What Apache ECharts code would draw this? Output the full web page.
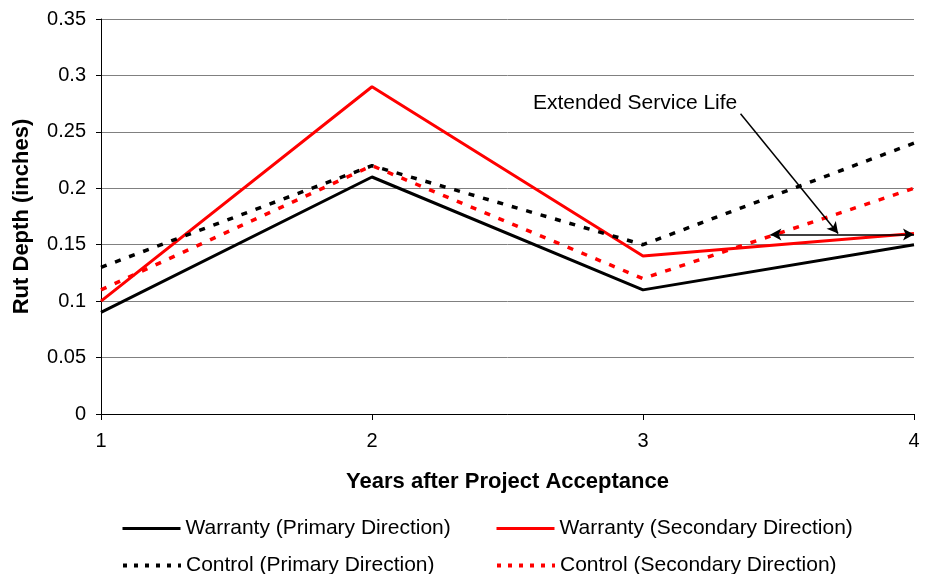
<!DOCTYPE html>
<html>
<head>
<meta charset="utf-8">
<script src="https://cdn.jsdelivr.net/npm/echarts@6/dist/echarts.min.js"></script>
<style>
  html, body { margin: 0; padding: 0; background: #fff; }
  #chart { width: 926px; height: 574px; }
</style>
</head>
<body>
<div id="chart"></div>
<script>
// 年份
var years = [1, 2, 3, 4];
// 车辙深度（英寸）
var warrantyPrimary = [0.09, 0.21, 0.11, 0.15];
var warrantySecondary = [0.10, 0.29, 0.14, 0.16];
var controlPrimary = [0.13, 0.22, 0.15, 0.24];
var controlSecondary = [0.11, 0.22, 0.12, 0.20];
// 注释：延长使用寿命
var pointerFrom = [3.36, 0.266];
var pointerTo = [3.72, 0.16];
var spanFrom = [3.47, 0.159];
var spanTo = [4, 0.159];

var font = 'Liberation Sans, Arial, sans-serif';

function pairs(vals) {
    var out = [];
    for (var i = 0; i < years.length; i++) out.push([years[i], vals[i]]);
    return out;
}

var chart = echarts.init(document.getElementById('chart'));

function legendAt(name, left, top, dashed) {
    return {
        data: [name],
        left: left,
        top: top,
        itemWidth: 58,
        itemHeight: 12,
        itemGap: 6,
        itemStyle: { opacity: 0 },
        lineStyle: dashed ? { width: 4, type: [4, 7] } : { width: 3 },
        textStyle: { fontFamily: font, fontSize: 21, color: '#000' }
    };
}

var option = {
    backgroundColor: '#fff',
    animation: false,
    grid: { left: 101, right: 12, top: 19, bottom: 160 },
    legend: [
        legendAt('Warranty (Primary Direction)', 116, 513, false),
        legendAt('Warranty (Secondary Direction)', 490, 513, false),
        legendAt('Control (Primary Direction)', 116, 550, true),
        legendAt('Control (Secondary Direction)', 490, 550, true)
    ],
    xAxis: {
        type: 'value',
        min: 1,
        max: 4,
        interval: 1,
        name: 'Years after Project Acceptance',
        nameLocation: 'middle',
        nameGap: 57,
        nameTextStyle: { fontFamily: font, fontSize: 22, fontWeight: 'bold', color: '#000' },
        axisLine: { lineStyle: { color: '#000', width: 1 } },
        axisTick: { show: true, length: 6, inside: false, lineStyle: { color: '#000' } },
        axisLabel: { fontFamily: font, fontSize: 20, color: '#000', margin: 17 },
        splitLine: { show: false }
    },
    yAxis: {
        type: 'value',
        min: 0,
        max: 0.35,
        interval: 0.05,
        name: 'Rut Depth (inches)',
        nameLocation: 'middle',
        nameRotate: 90,
        nameGap: 68,
        nameTextStyle: { fontFamily: font, fontSize: 22, fontWeight: 'bold', color: '#000' },
        axisLine: { show: true, lineStyle: { color: '#000', width: 1 } },
        axisTick: { show: true, length: 5, lineStyle: { color: '#000' } },
        axisLabel: { fontFamily: font, fontSize: 20, color: '#000', margin: 15 },
        splitLine: { show: true, lineStyle: { color: '#808080', width: 1 } }
    },
    series: [
        {
            name: 'Warranty (Primary Direction)',
            type: 'line',
            data: pairs(warrantyPrimary),
            symbol: 'none',
            color: '#000',
            lineStyle: { color: '#000', width: 3 },
            markLine: {
                silent: true,
                symbolSize: [9, 11],
                lineStyle: { color: '#000', width: 1.5, type: 'solid' },
                label: { show: false },
                data: [
                    [{ coord: pointerFrom, symbol: 'none' }, { coord: pointerTo, symbol: 'arrow' }],
                    [{ coord: spanFrom, symbol: 'arrow' }, { coord: spanTo, symbol: 'arrow' }]
                ]
            }
        },
        {
            name: 'Warranty (Secondary Direction)',
            type: 'line',
            data: pairs(warrantySecondary),
            symbol: 'none',
            color: '#ff0000',
            lineStyle: { color: '#ff0000', width: 3 }
        },
        {
            name: 'Control (Primary Direction)',
            type: 'line',
            data: pairs(controlPrimary),
            symbol: 'none',
            color: '#000',
            lineStyle: { color: '#000', width: 3.5, type: [6, 9] }
        },
        {
            name: 'Control (Secondary Direction)',
            type: 'line',
            data: pairs(controlSecondary),
            symbol: 'none',
            color: '#ff0000',
            lineStyle: { color: '#ff0000', width: 3.5, type: [6, 9] }
        }
    ],
    graphic: [{
        type: 'text',
        left: 533,
        top: 93,
        style: { text: 'Extended Service Life', font: '21px ' + font, fill: '#000' }
    }]
};

chart.setOption(option);
</script>
</body>
</html>
